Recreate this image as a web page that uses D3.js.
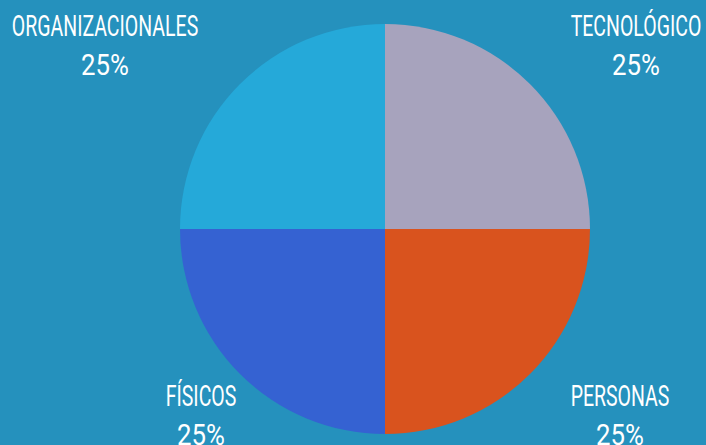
<!DOCTYPE html>
<html>
<head>
<meta charset="utf-8">
<script src="https://cdn.jsdelivr.net/npm/d3@7"></script>
<style>
  html, body { margin: 0; padding: 0; background: #2591bd; overflow: hidden; }
  text { font-family: Roboto, "Noto Sans", sans-serif; fill: #ffffff; }
</style>
</head>
<body>
<div id="chart"></div>
<script>
// data
var categories = ["TECNOLÓGICO", "PERSONAS", "FÍSICOS", "ORGANIZACIONALES"];
var values = [25, 25, 25, 25];
var colors = ["#a7a3bd", "#d9531e", "#3562d2", "#25a9d9"];

function pieChart() {
    var w = 706;
    var h = 445;
    var cx = 385, cy = 229, r = 205;
    var fontSize = 30;
    var squeezeName = 0.65; // condensed look for the labels
    var squeezePct = 0.86;

    // label block centres, relative to pie centre (one per quadrant)
    var labelOffsets = [[251, -193], [235, 177], [-184, 177], [-280, -193]];

    var svg = d3.select("#chart")
                .append("svg")
                .attr("width", w)
                .attr("height", h);

    var data = categories.map((c, i) => ({ name: c, value: values[i], color: colors[i] }));

    var pie = d3.pie().sort(null).value(d => d.value);
    var arc = d3.arc().innerRadius(0).outerRadius(r);

    var g = svg.append("g").attr("transform", `translate(${cx},${cy})`);

    g.selectAll("path")
        .data(pie(data))
        .enter()
        .append("path")
        .attr("d", arc)
        .attr("fill", d => d.data.color);

    var total = d3.sum(values);

    var labels = svg.selectAll("g.label")
        .data(data)
        .enter()
        .append("g")
        .attr("class", "label")
        .attr("transform", (d, i) => `translate(${cx + labelOffsets[i][0]},${cy + labelOffsets[i][1]})`);

    labels.append("text")
        .attr("text-anchor", "middle")
        .attr("font-size", fontSize)
        .attr("transform", `scale(${squeezeName},1)`)
        .text(d => d.name);

    labels.append("text")
        .attr("text-anchor", "middle")
        .attr("font-size", fontSize)
        .attr("transform", `translate(0,39) scale(${squeezePct},1)`)
        .text(d => Math.round(d.value / total * 100) + "%");
}

window.onload = pieChart;
</script>
</body>
</html>
